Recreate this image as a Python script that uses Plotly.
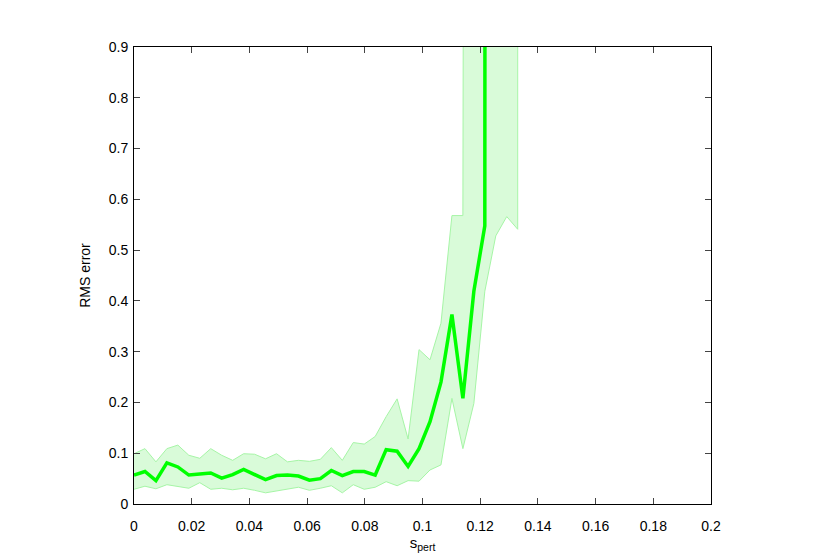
import plotly.graph_objects as go

# sample spacing of s_pert
step = 0.0038
s_pert = [round(i * step, 4) for i in range(36)]

# mean RMS error (values past the top of the axis are clipped off-chart)
rms_mean = [
    0.057, 0.064, 0.046, 0.081, 0.073, 0.057, 0.059, 0.061, 0.051, 0.058,
    0.068, 0.058, 0.048, 0.056, 0.057, 0.055, 0.047, 0.050, 0.066, 0.056,
    0.064, 0.064, 0.057, 0.107, 0.104, 0.074, 0.109, 0.162, 0.240, 0.373,
    0.208, 0.419, 0.548, 40.0, 40.0, 40.0,
]

rms_upper = [
    0.099, 0.109, 0.083, 0.109, 0.116, 0.096, 0.090, 0.109, 0.096, 0.086,
    0.099, 0.098, 0.089, 0.099, 0.083, 0.086, 0.084, 0.088, 0.111, 0.086,
    0.121, 0.118, 0.133, 0.172, 0.207, 0.128, 0.304, 0.284, 0.356, 0.568,
    0.568, 60.0, 60.0, 60.0, 60.0, 60.0,
]

rms_lower = [
    0.029, 0.035, 0.030, 0.038, 0.035, 0.031, 0.042, 0.029, 0.031, 0.028,
    0.031, 0.027, 0.022, 0.025, 0.029, 0.033, 0.027, 0.031, 0.036, 0.022,
    0.038, 0.029, 0.033, 0.044, 0.036, 0.046, 0.045, 0.067, 0.077, 0.208,
    0.109, 0.198, 0.419, 0.528, 0.566, 0.541,
]

x_ticks = [0, 0.02, 0.04, 0.06, 0.08, 0.1, 0.12, 0.14, 0.16, 0.18, 0.2]
y_ticks = [0, 0.1, 0.2, 0.3, 0.4, 0.5, 0.6, 0.7, 0.8, 0.9]

GREEN = "#00ff00"
BAND_FILL = "rgba(0,230,0,0.15)"
BAND_EDGE = "#a6f5a6"
FONT = "Liberation Sans, Arial, sans-serif"

fig = go.Figure()

# shaded spread band as one closed polygon
fig.add_trace(go.Scatter(
    x=s_pert + s_pert[::-1],
    y=rms_upper + rms_lower[::-1],
    mode="lines",
    fill="toself",
    fillcolor=BAND_FILL,
    line=dict(color=BAND_EDGE, width=1),
    hoverinfo="skip",
    showlegend=False,
))

fig.add_trace(go.Scatter(
    x=s_pert,
    y=rms_mean,
    mode="lines",
    line=dict(color=GREEN, width=3.5),
    showlegend=False,
))

axis_common = dict(
    showline=True,
    linecolor="black",
    linewidth=1,
    mirror="ticks",
    ticks="inside",
    ticklen=6,
    tickcolor="#444444",
    tickwidth=1,
    showgrid=False,
    zeroline=False,
    tickfont=dict(family=FONT, size=14, color="black"),
)

fig.update_xaxes(
    range=[0, 0.2],
    tickvals=x_ticks,
    ticktext=[f"{v:g}" for v in x_ticks],
    ticklabelstandoff=9,
    title_text="s<sub>pert</sub>",
    title_font=dict(family=FONT, size=15, color="black"),
    title_standoff=3,
    **axis_common,
)
fig.update_yaxes(
    range=[0, 0.9],
    tickvals=y_ticks,
    ticktext=[f"{v:g}" for v in y_ticks],
    ticklabelstandoff=2,
    title_text="RMS error",
    title_font=dict(family=FONT, size=14, color="black"),
    title_standoff=14,
    **axis_common,
)

fig.update_layout(
    width=830,
    height=558,
    autosize=False,
    margin=dict(l=126, r=127, t=39, b=62),
    paper_bgcolor="white",
    plot_bgcolor="white",
    font=dict(family=FONT, size=14, color="black"),
)

fig.write_html("out.html")
